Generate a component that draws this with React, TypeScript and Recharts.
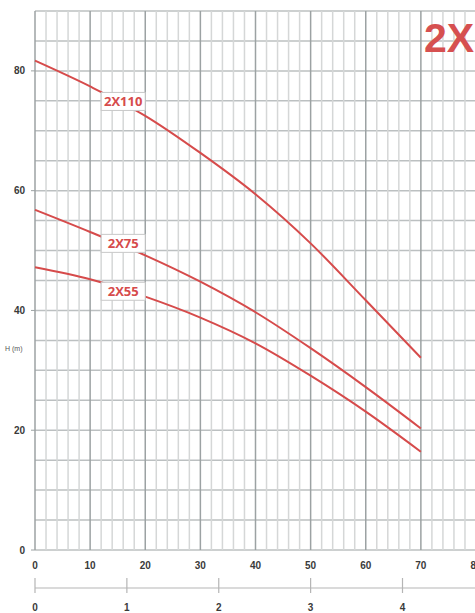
import {
  LineChart,
  Line,
  XAxis,
  YAxis,
  ReferenceLine,
  ReferenceDot,
} from "recharts";

// flow (l/min) and head (m)
const flow = [0, 10, 20, 30, 40, 50, 60, 70];
const head110 = [81.7, 77.4, 72.5, 66.3, 59.4, 51.2, 41.7, 32.1];
const head75 = [56.8, 53.1, 49.2, 44.8, 39.7, 33.7, 27.2, 20.3];
const head55 = [47.2, 45.2, 42.3, 38.8, 34.5, 29.1, 23.1, 16.4];

const flowTicks = [0, 10, 20, 30, 40, 50, 60, 70, 80];
const m3hTicks = [0, 1, 2, 3, 4, 5];
const headTicks = [0, 20, 40, 60, 80];

// 1 m³/h = 16.67 l/min
const LPM_PER_M3H = 1000 / 60;

// grid lines
const gridX = Array.from({ length: 41 }, (_, i) => i * 2);
const gridY = Array.from({ length: 19 }, (_, i) => i * 5);

// curve tags: [name, flow, head]
const tags: [string, number, number][] = [
  ["2X110", 16, 74.9],
  ["2X75", 16, 51.2],
  ["2X55", 16, 43.2],
];

const data = flow.map((q, i) => ({
  q,
  h110: head110[i],
  h75: head75[i],
  h55: head55[i],
}));

const RED = "#d64b4b";
const TICK = { fontSize: 10, fontWeight: 700, fill: "#3a3a3a", fontFamily: "Liberation Sans" };

function TagShape(props: any) {
  const { cx, cy, name } = props;
  const w = 44;
  return (
    <g>
      <rect x={cx - w / 2} y={cy - 9} width={w} height={18} fill="#fff" stroke="#c8c8c8" strokeWidth={1} />
      <text
        x={cx}
        y={cy + 4.5}
        textAnchor="middle"
        fontSize={13}
        fontWeight={700}
        fill={RED}
        fontFamily="Open Sans"
      >
        {name}
      </text>
    </g>
  );
}

function M3hTick(props: any) {
  const { x, y, payload } = props;
  return (
    <g>
      <line x1={x} x2={x} y1={y - 10} y2={y + 5} stroke="#b5b5b5" strokeWidth={1.2} />
      <text x={x} y={y + 23} textAnchor="middle" {...TICK}>
        {Math.round(payload.value / LPM_PER_M3H)}
      </text>
    </g>
  );
}

export default function App() {
  return (
    <div style={{ position: "relative", width: 475, height: 613, overflow: "hidden", background: "#fff" }}>
      <style>{"body{margin:0}"}</style>
      <LineChart
        width={500}
        height={613}
        data={data}
        margin={{ top: 11, right: 24, left: 0, bottom: 0 }}
      >
        {gridY.map((v) => (
          <ReferenceLine key={"y" + v} y={v} stroke="#bcc0c1" strokeWidth={1.5} />
        ))}
        {gridX.map((v) => (
          <ReferenceLine
            key={"x" + v}
            x={v}
            stroke={v % 10 === 0 ? "#9ca2a3" : "#d5d7d7"}
            strokeWidth={1.5}
          />
        ))}
        <XAxis
          dataKey="q"
          type="number"
          domain={[0, 80]}
          ticks={flowTicks}
          axisLine={false}
          tickLine={false}
          tickSize={6}
          tickMargin={6}
          height={38}
          tick={TICK}
          interval={0}
        />
        <XAxis
          xAxisId="m3h"
          dataKey="q"
          type="number"
          domain={[0, 80]}
          allowDataOverflow
          ticks={m3hTicks.map((t) => t * LPM_PER_M3H)}
          axisLine={{ stroke: "#b5b5b5", strokeWidth: 1.2 }}
          tickLine={false}
          tickSize={0}
          tickMargin={0}
          height={25}
          tick={<M3hTick />}
          interval={0}
        />
        <YAxis
          type="number"
          domain={[0, 90]}
          ticks={headTicks}
          width={35}
          axisLine={false}
          tickLine={{ stroke: "#9ca2a3" }}
          tickSize={4}
          tickMargin={6}
          tick={TICK}
          interval={0}
        />
        <Line type="monotone" dataKey="h110" stroke={RED} strokeWidth={2} dot={false} isAnimationActive={false} />
        <Line type="monotone" dataKey="h75" stroke={RED} strokeWidth={2} dot={false} isAnimationActive={false} />
        <Line type="monotone" dataKey="h55" stroke={RED} strokeWidth={2} dot={false} isAnimationActive={false} />
        {tags.map(([name, q, h]) => (
          <ReferenceDot
            key={name}
            x={q}
            y={h}
            r={0}
            ifOverflow="visible"
            shape={(p: any) => <TagShape {...p} name={name} />}
          />
        ))}
      </LineChart>
      <div
        style={{
          position: "absolute",
          left: 5,
          top: 345,
          fontSize: 7,
          fontFamily: "Liberation Sans",
          color: "#555",
        }}
      >
        H (m)
      </div>
      <div
        style={{
          position: "absolute",
          left: 424,
          top: 18,
          fontSize: 41,
          fontWeight: 700,
          fontFamily: "Liberation Sans",
          color: "#d65050",
          lineHeight: 1,
          whiteSpace: "nowrap",
        }}
      >
        2X
      </div>
    </div>
  );
}
